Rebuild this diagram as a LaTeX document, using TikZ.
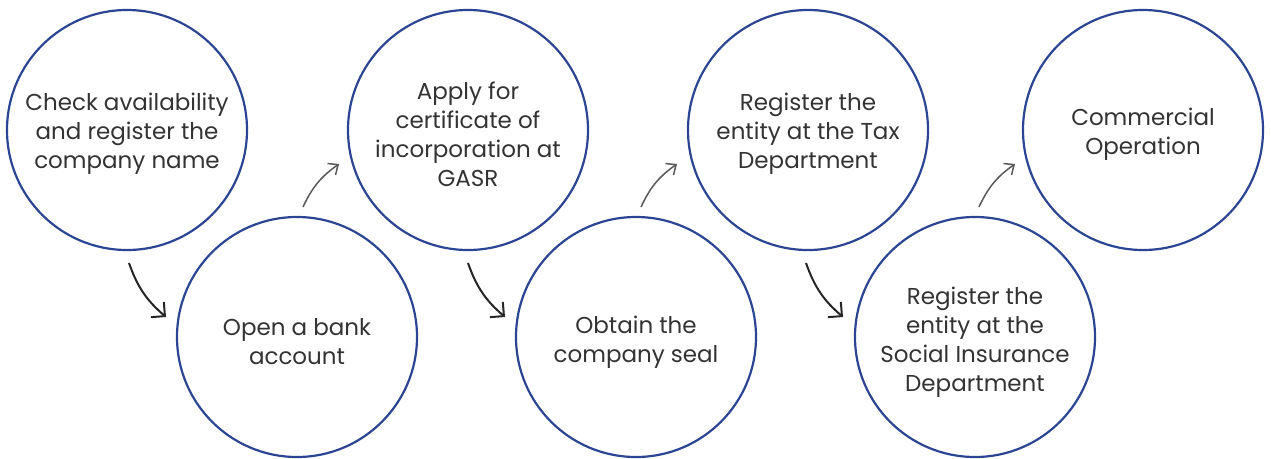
\documentclass[tikz,border=0pt]{standalone}
\usepackage{fontspec}
\setmainfont{Poppins}
\usetikzlibrary{arrows.meta}
\definecolor{ringblue}{HTML}{2B4593}
\definecolor{txt}{HTML}{333333}
\begin{document}
\begin{tikzpicture}[x=1pt,y=-1pt,
  stepcircle/.style={circle,draw=ringblue,line width=2.2pt,minimum size=240pt,inner sep=0pt},
  steptext/.style={align=center,text=txt,inner sep=0pt,font=\fontsize{23}{29}\selectfont},
  downarrow/.style={-{Straight Barb[length=10pt,width=20pt,line width=2pt]},line width=2pt,black!85},
  uparrow/.style={-{Straight Barb[length=8pt,width=14pt,line width=1.5pt]},line width=1.5pt,black!65}]
\useasboundingbox (0,0) rectangle (1271,458);
\node[stepcircle] (c1) at (127,130) {};
\node[stepcircle] (c2) at (297,337) {};
\node[stepcircle] (c3) at (468,130) {};
\node[stepcircle] (c4) at (636,337) {};
\node[stepcircle] (c5) at (808,130) {};
\node[stepcircle] (c6) at (975,337) {};
\node[stepcircle] (c7) at (1143,130) {};
\node[steptext] (t1) at ([yshift=-4pt]c1.center) {Check availability\\and register the\\company name};
\node[steptext] (t2) at ([yshift=-5pt]c2.center) {Open a bank\\account};
\node[steptext] (t3) at ([yshift=-4pt]c3.center) {Apply for\\certificate of\\incorporation at\\GASR};
\node[steptext] (t4) at ([yshift=-5pt]c4.center) {Obtain the\\company seal};
\node[steptext] (t5) at ([yshift=-4pt]c5.center) {Register the\\entity at the Tax\\Department};
\node[steptext] (t6) at ([yshift=-5pt]c6.center) {Register the\\entity at the\\Social Insurance\\Department};
\node[steptext] (t7) at ([yshift=-4pt]c7.center) {Commercial\\Operation};
% arrow end points
\coordinate (d1s) at (129,263); \coordinate (d1e) at (166,317);
\coordinate (d2s) at (468,263); \coordinate (d2e) at (505,317);
\coordinate (d3s) at (806,263); \coordinate (d3e) at (843,317);
\coordinate (u1s) at (303,207); \coordinate (u1e) at (339,164);
\coordinate (u2s) at (641,207); \coordinate (u2e) at (677,164);
\coordinate (u3s) at (979,207); \coordinate (u3e) at (1015,164);
\draw[downarrow] (d1s) to[bend right=15] (d1e);
\draw[downarrow] (d2s) to[bend right=15] (d2e);
\draw[downarrow] (d3s) to[bend right=15] (d3e);
\draw[uparrow] (u1s) to[bend left=15] (u1e);
\draw[uparrow] (u2s) to[bend left=15] (u2e);
\draw[uparrow] (u3s) to[bend left=15] (u3e);
\end{tikzpicture}
\end{document}
